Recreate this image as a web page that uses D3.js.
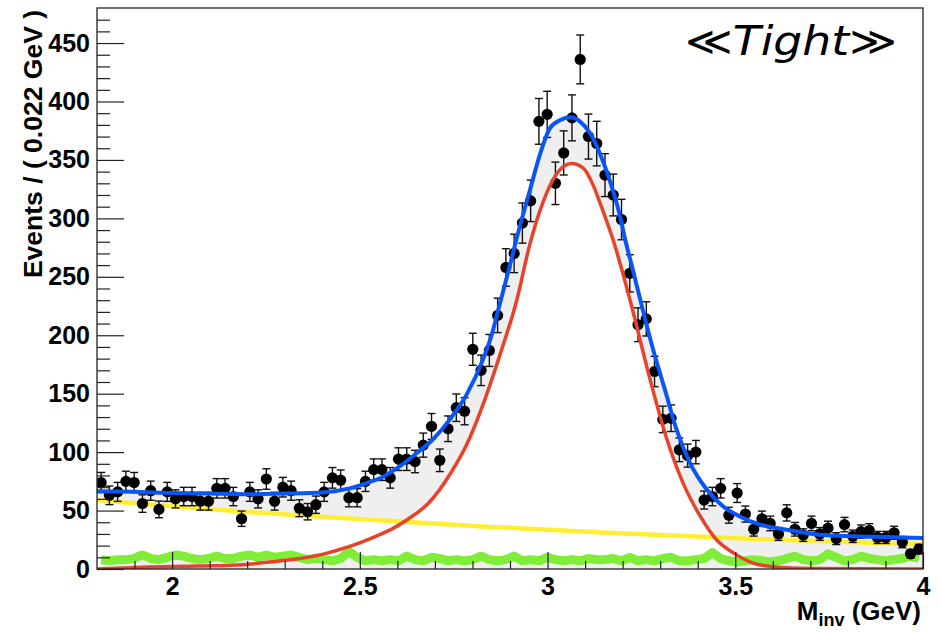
<!DOCTYPE html>
<html>
<head>
<meta charset="utf-8">
<script src="https://cdn.jsdelivr.net/npm/d3@7/dist/d3.min.js"></script>
<style>
body { margin: 0; background: #fff; }
svg text { font-family: "Liberation Sans", Arial, sans-serif; font-weight: bold; fill: #000; }
</style>
</head>
<body>
<script>
// bins: 100 x 0.022 GeV from 1.8 to 4.0
var binLow   = 1.8,
    binWidth = 0.022;

var events = [
  74, 63, 66, 75, 74, 56, 67, 51, 66, 60,
  62, 62, 58, 58, 69, 69, 62, 43, 66, 60,
  77, 58, 70, 67, 52, 49, 55, 66, 78, 76,
  61, 61, 75, 85, 85, 78, 94, 94, 92, 106,
  122, 93, 120, 138, 135, 188, 170, 187, 217, 258,
  270, 296, 315, 383, 389, 330, 356, 386, 436, 370,
  364, 337, 320, 299, 253, 209, 214, 169, 128, 129,
  102, 97, 100, 59, 62, 69, 46, 65, 47, 34,
  43, 39, 30, 48, 34, 29, 39, 30, 35, 26,
  38, 28, 32, 33, 27, 27, 31, 23, 13, 17
];

// like-sign pairs (green)
var likeSign = [
  8, 7, 8, 8, 9, 12, 9, 8, 10, 12,
  11, 9, 8, 9, 11, 9, 9, 11, 12, 10,
  12, 10, 11, 12, 10, 8, 9, 8, 7, 9,
  15, 10, 7, 8, 7, 8, 7, 11, 8, 7,
  10, 9, 7, 8, 7, 8, 11, 8, 7, 8,
  11, 7, 8, 7, 10, 8, 7, 8, 7, 9,
  8, 8, 9, 7, 10, 7, 8, 7, 9, 10,
  7, 7, 8, 9, 14, 9, 7, 6, 7, 8,
  7, 6, 7, 9, 11, 8, 7, 8, 13, 10,
  7, 8, 11, 9, 8, 7, 8, 9, 11, 9
];

// total fit (blue)
var totalMass   = [1.80, 1.90, 2.00, 2.10, 2.20, 2.30, 2.40, 2.473, 2.518, 2.562, 2.607, 2.651, 2.695, 2.740, 2.784, 2.829, 2.850, 2.873, 2.899, 2.926, 2.953, 2.980, 3.006, 3.033, 3.060, 3.086, 3.113, 3.140, 3.166, 3.193, 3.206, 3.228, 3.255, 3.281, 3.313, 3.344, 3.379, 3.424, 3.468, 3.512, 3.566, 3.637, 3.725, 3.814, 3.903, 4.00];
var totalEvents = [66.5, 66, 65, 64.5, 64, 64.5, 65.5, 69, 73.5, 79, 88, 99, 111, 128, 149, 180, 199, 227, 259, 293, 324, 355, 377, 384, 386.5, 383, 373, 355, 332, 302, 283, 255, 220, 188, 153, 119, 91, 68, 53.5, 45, 38, 33.6, 29.3, 28, 27.3, 26.5];

// signal (red)
var signalMass   = [1.80, 1.92, 2.07, 2.19, 2.26, 2.33, 2.40, 2.45, 2.505, 2.55, 2.59, 2.63, 2.682, 2.744, 2.784, 2.833, 2.873, 2.918, 2.953, 2.988, 3.024, 3.064, 3.095, 3.122, 3.140, 3.179, 3.219, 3.270, 3.316, 3.361, 3.407, 3.450, 3.494, 3.548, 3.60, 3.70, 4.00];
var signalEvents = [0, 1.5, 2.5, 3.7, 6, 8.5, 12.5, 17, 23, 29, 35, 43, 56, 83, 106, 145, 183, 230, 278, 314, 338, 347, 343, 328, 313, 277, 231, 166, 113, 73.5, 45, 25, 14, 5, 2, 0.5, 0];

// background (yellow)
var bkgMass   = [1.80, 2.066, 2.353, 2.85, 3.16, 3.613, 4.00];
var bkgEvents = [59, 52, 45.5, 36, 31, 25, 21];

// lower edge of the grey band
var bandMass   = [1.80, 2.066, 2.353, 2.55, 2.605, 2.63, 2.682, 2.744, 2.784, 2.833, 2.873, 2.918, 2.953, 2.988, 3.024, 3.064, 3.095, 3.122, 3.140, 3.179, 3.219, 3.270, 3.316, 3.361, 3.407, 3.450, 3.494, 3.548, 3.60, 3.70, 4.00];
var bandEvents = [59, 52, 45.5, 42, 40.5, 43, 56, 83, 106, 145, 183, 230, 278, 314, 338, 347, 343, 328, 313, 277, 231, 166, 113, 73.5, 45, 25, 14, 5, 2, 0.5, 0];

var xMajor = [2, 2.5, 3, 3.5, 4],
    xLabels = ["2", "2.5", "3", "3.5", "4"],
    yMajor = [0, 50, 100, 150, 200, 250, 300, 350, 400, 450],
    yLabels = ["0", "50", "100", "150", "200", "250", "300", "350", "400", "450"];

var width  = 941;
var height = 632;

var svg = d3.select('body')
            .append('svg')
            .attr('width', width)
            .attr('height', height);

var margin = {top: 8, right: 18, bottom: 63, left: 97},
    w = width - margin.left - margin.right,
    h = height - margin.top - margin.bottom;

var x = d3.scaleLinear().domain([1.8, 4.0]).range([0, w]),
    y = d3.scaleLinear().domain([0, 480]).range([h, 0]);

var g = svg.append("g")
           .attr("transform", "translate(" + margin.left + "," + margin.top + ")");

svg.append("defs").append("clipPath").attr("id", "plot")
   .append("rect").attr("width", w).attr("height", h);

var plot = g.append("g").attr("clip-path", "url(#plot)");

function pts(xs, ys) { return xs.map(function(m, i) { return [x(m), y(ys[i])]; }); }

var smooth = d3.line().curve(d3.curveMonotoneX);

var bins = events.map(function(n, i) {
  return {mass: binLow + binWidth * (i + 0.5), n: n, err: Math.sqrt(n), ls: likeSign[i]};
});

// grey band between total fit and lower edge
var topPath = smooth(pts(totalMass, totalEvents)),
    lowPath = smooth(pts(bandMass, bandEvents).reverse());
plot.append("path")
    .attr("d", topPath + "L" + lowPath.slice(1) + "Z")
    .attr("fill", "#efefef");

// grey under like-sign
plot.append("path")
    .datum(bins)
    .attr("fill", "#efefef")
    .attr("d", d3.area().x(function(d) { return x(d.mass); }).y0(h).y1(function(d) { return y(d.ls); }));

plot.append("path")
    .datum(bins)
    .attr("fill", "none")
    .attr("stroke", "#80ee38")
    .attr("stroke-width", 9)
    .attr("stroke-linejoin", "round")
    .attr("d", d3.line().x(function(d) { return x(d.mass); }).y(function(d) { return y(d.ls); }));

plot.append("path")
    .attr("d", smooth(pts(bkgMass, bkgEvents)))
    .attr("fill", "none")
    .attr("stroke", "#ffee33")
    .attr("stroke-width", 4.5);

// data points
var pt = plot.selectAll(".pt")
             .data(bins)
             .enter().append("g")
             .attr("class", "pt")
             .attr("transform", function(d) { return "translate(" + x(d.mass) + ",0)"; });

pt.append("line")
  .attr("y1", function(d) { return y(d.n - d.err); })
  .attr("y2", function(d) { return y(d.n + d.err); })
  .attr("stroke", "#111").attr("stroke-width", 1.4);
pt.append("line")
  .attr("x1", -4).attr("x2", 4)
  .attr("y1", function(d) { return y(d.n + d.err); })
  .attr("y2", function(d) { return y(d.n + d.err); })
  .attr("stroke", "#111").attr("stroke-width", 1.4);
pt.append("line")
  .attr("x1", -4).attr("x2", 4)
  .attr("y1", function(d) { return y(d.n - d.err); })
  .attr("y2", function(d) { return y(d.n - d.err); })
  .attr("stroke", "#111").attr("stroke-width", 1.4);
pt.append("circle")
  .attr("cy", function(d) { return y(d.n); })
  .attr("r", 5.6)
  .attr("fill", "#000");

plot.append("path")
    .attr("d", smooth(pts(signalMass, signalEvents)))
    .attr("fill", "none")
    .attr("stroke", "#e8432a")
    .attr("stroke-width", 3.5);

plot.append("path")
    .attr("d", smooth(pts(totalMass, totalEvents)))
    .attr("fill", "none")
    .attr("stroke", "#0a55f5")
    .attr("stroke-width", 4);

// axes, ticks inside the frame
var xMinor = d3.range(1.9, 4.0, 0.1).filter(function(v) { return Math.abs(v * 2 - Math.round(v * 2)) > 0.01; }),
    yMinor = d3.range(10, 480, 10).filter(function(v) { return v % 50; });

g.append("g")
 .attr("class", "axis axis--x")
 .attr("transform", "translate(0," + h + ")")
 .call(d3.axisBottom(x).tickValues(xMajor).tickSize(-17).tickPadding(8)
        .tickFormat(function(d, i) { return xLabels[i]; }))
 .call(function(a) { a.select(".domain").remove(); })
 .selectAll("text").style("font-size", "25px");

g.append("g")
 .attr("transform", "translate(0," + h + ")")
 .call(d3.axisBottom(x).tickValues(xMinor).tickSize(-8).tickFormat(""))
 .call(function(a) { a.select(".domain").remove(); });

g.append("g")
 .attr("class", "axis axis--y")
 .call(d3.axisLeft(y).tickValues(yMajor).tickSize(-27).tickPadding(7)
        .tickFormat(function(d, i) { return yLabels[i]; }))
 .call(function(a) { a.select(".domain").remove(); })
 .selectAll("text").style("font-size", "25px");

g.append("g")
 .call(d3.axisLeft(y).tickValues(yMinor).tickSize(-13).tickFormat(""))
 .call(function(a) { a.select(".domain").remove(); });

g.selectAll(".tick line").attr("stroke", "#222").attr("stroke-width", 1.2);

g.append("rect")
 .attr("width", w).attr("height", h)
 .attr("fill", "none").attr("stroke", "#222").attr("stroke-width", 1.3);

// titles
var xt = svg.append("text")
            .attr("x", 921)
            .attr("y", 620)
            .style("text-anchor", "end")
            .style("font-size", "26px");
xt.append("tspan").text("M");
xt.append("tspan").attr("dy", 6).style("font-size", "18px").text("inv");
xt.append("tspan").attr("dy", -6).text(" (GeV)");

svg.append("text")
   .attr("transform", "rotate(-90)")
   .attr("x", -10)
   .attr("y", 42)
   .style("text-anchor", "end")
   .style("font-size", "26.5px")
   .text("Events / ( 0.022 GeV )");

svg.append("text")
   .attr("x", 685)
   .attr("y", 55)
   .attr("textLength", 212)
   .attr("lengthAdjust", "spacingAndGlyphs")
   .style("font-family", "'DejaVu Sans', sans-serif")
   .style("font-weight", "normal")
   .style("font-style", "italic")
   .style("font-size", "40px")
   .text("\u226ATight\u226B");
</script>
</body>
</html>
